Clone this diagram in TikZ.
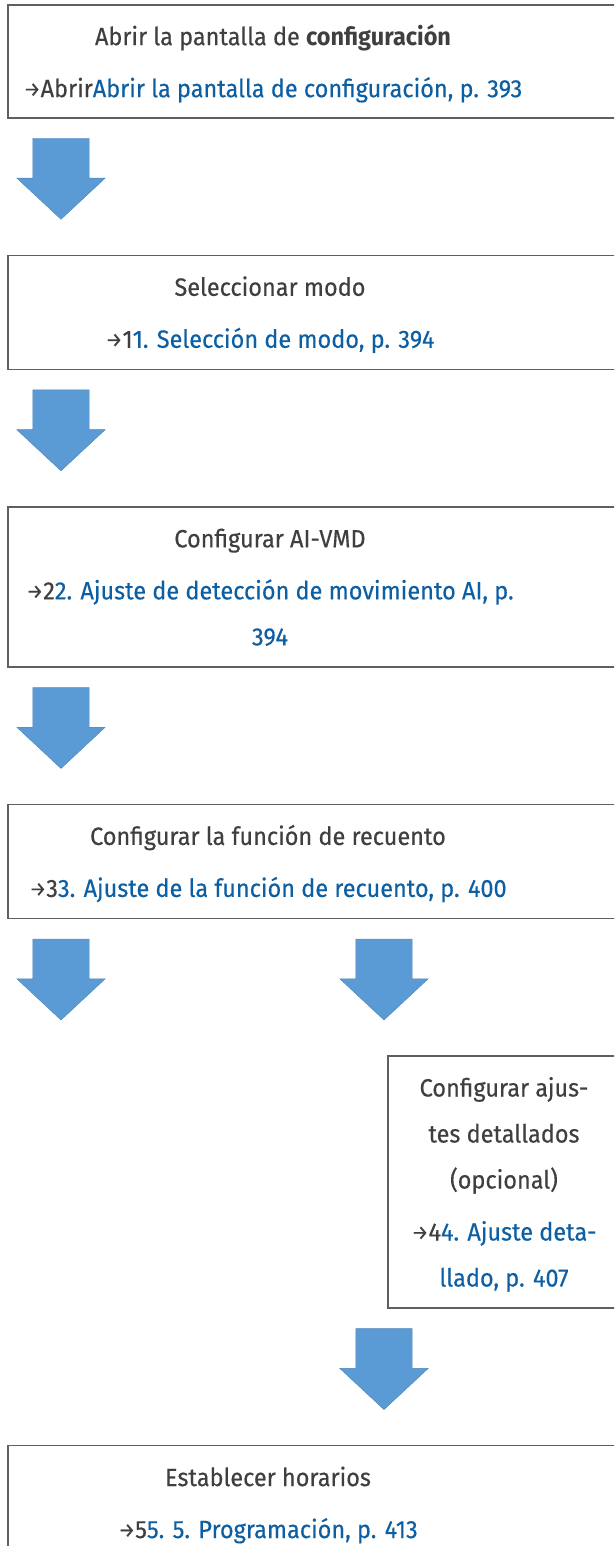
\documentclass[tikz,border=0pt]{standalone}
\usepackage{fontspec}
\setmainfont{Fira Sans}[FakeStretch=0.94, UprightFeatures={FakeBold=0.4}]
\usetikzlibrary{shapes.arrows, positioning, calc}
\definecolor{flowgrey}{HTML}{3F3F3F}
\definecolor{flowlink}{HTML}{0D5FA3}
\definecolor{flowblue}{HTML}{5B9BD5}
\definecolor{flowframe}{HTML}{5F5F5F}
\newcommand{\lnk}[1]{\textcolor{flowlink}{#1}}
\newcommand{\refto}{\raisebox{1pt}{\fontsize{20}{46}\selectfont →}}

\begin{document}
\begin{tikzpicture}[
    x=1pt, y=-1pt,
    stepbox/.style={draw=flowframe, line width=1.6pt, anchor=north west, minimum width=640pt, inner sep=0pt},
    steptext/.style={anchor=north, inner sep=0pt, align=center, text=flowgrey, font=\fontsize{25}{46}\selectfont},
    blockarrow/.style={single arrow, fill=flowblue, draw=flowblue!85!black, line width=0.4pt,
        single arrow head extend=16pt, single arrow tip angle=94,
        minimum height=81pt, minimum width=88pt, inner xsep=28pt, inner ysep=0pt,
        shape border rotate=270, anchor=tail}
]
\useasboundingbox (0,0) rectangle (614,1546);
\clip (0,0) rectangle (614,1546);

% Boxes and arrows
\node[stepbox, minimum height=113pt] (open) at (7,4) {};
\node[steptext] (opent) at ($(open.north west)+(266,8.8)$)
    {\strut Abrir la pantalla de \textbf{configuración}\\[6pt]
     \refto Abrir\lnk{Abrir la pantalla de configuración, p. 393}};
\node[blockarrow] (a1) at ($(open.south west)+(54,19.5)$) {};

\node[stepbox, minimum height=114pt] (mode) at ($(a1.tip)+(-54,35)$) {};
\node[steptext] (modet) at ($(mode.north west)+(263,8.8)$)
    {\strut Seleccionar modo\\[6pt]
     \refto 1\lnk{1. Selección de modo, p. 394}};
\node[blockarrow] (a2) at ($(mode.south west)+(54,19.5)$) {};

\node[stepbox, minimum height=160pt] (vmd) at ($(a2.tip)+(-54,35)$) {};
\node[steptext] (vmdt) at ($(vmd.north west)+(263,8.8)$)
    {\strut Configurar AI-VMD\\[6pt]
     \refto 2\lnk{2. Ajuste de detección de movimiento AI, p.}\\
     \lnk{394}};
\node[blockarrow] (a3) at ($(vmd.south west)+(54,19.5)$) {};

\node[stepbox, minimum height=114pt] (count) at ($(a3.tip)+(-54,35)$) {};
\node[steptext] (countt) at ($(count.north west)+(261,8.8)$)
    {\strut Configurar la función de recuento\\[6pt]
     \refto 3\lnk{3. Ajuste de la función de recuento, p. 400}};
\node[blockarrow] (a4l) at ($(count.south west)+(54,19.5)$) {};
\node[blockarrow] (a4r) at ($(count.south west)+(377,19.5)$) {};

\node[stepbox, minimum width=260pt, minimum height=252pt] (detail) at ($(a4r.tip)+(3,35)$) {};
\node[steptext] (detailt) at ($(detail.north west)+(117,8.8)$)
    {\strut Configurar ajus-\\
     tes detallados\\
     (opcional)\\[6pt]
     \refto 4\lnk{4. Ajuste deta-}\\
     \lnk{llado, p. 407}};
\node[blockarrow] (a5) at ($(detail.south west)+(-3,19.5)$) {};

\node[stepbox, minimum height=160pt] (sched) at ($(a5.tip)+(-377,35)$) {};
\node[steptext] (schedt) at ($(sched.north west)+(261,8.8)$)
    {\strut Establecer horarios\\[6pt]
     \refto 5\lnk{5. 5. Programación, p. 413}};

\end{tikzpicture}
\end{document}
